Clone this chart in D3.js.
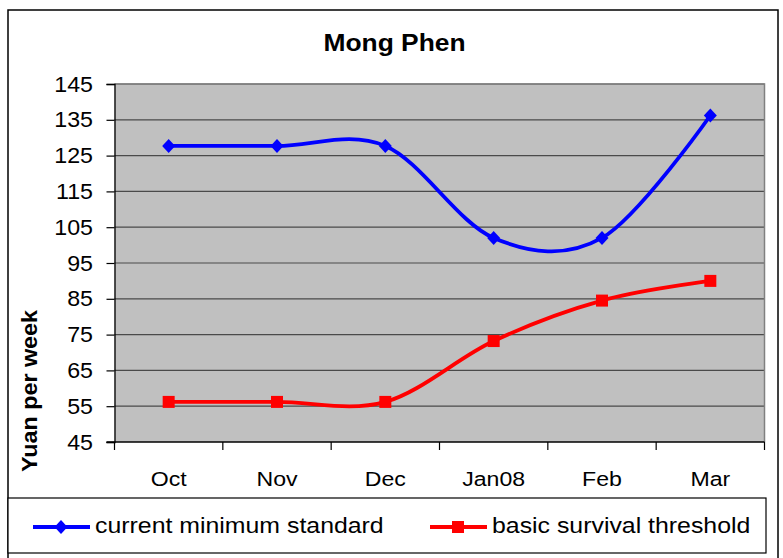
<!DOCTYPE html>
<html>
<head>
<meta charset="utf-8">
<script src="https://cdn.jsdelivr.net/npm/d3@7"></script>
<style>
  html, body { margin: 0; padding: 0; background: #fff; }
  svg { display: block; font-family: Arial, "Liberation Sans", sans-serif; }
</style>
</head>
<body>
<svg id="chart" width="783" height="558"></svg>
<script>
// ---- data ----
const categories = ["Oct", "Nov", "Dec", "Jan08", "Feb", "Mar"];
const currentMinimum = [127.7, 127.7, 127.7, 102, 102, 136.2];
const basicSurvival = [56.2, 56.2, 56.2, 73.2, 84.5, 90];
const yTicks = [45, 55, 65, 75, 85, 95, 105, 115, 125, 135, 145];
const seriesNames = ["current minimum standard", "basic survival threshold"];
const titleText = "Mong Phen";
const yLabelText = "Yuan per week";

// ---- layout ----
const svg = d3.select("#chart");
const plot = { left: 114.5, right: 764.5, top: 84, bottom: 442 };

// helper: text stretched horizontally along its direction
function stretchedText(g, x, y, txt, opts) {
  const t = g.append("text")
    .attr("transform", `translate(${x},${y})${opts.rotate ? ` rotate(${opts.rotate})` : ""} scale(${opts.sx || 1},1)`)
    .attr("text-anchor", opts.anchor || "start")
    .attr("font-size", opts.size)
    .attr("font-weight", opts.weight || "normal")
    .attr("fill", "#000")
    .text(txt);
  return t;
}

// outer border
svg.append("rect")
  .attr("x", 8).attr("y", 10).attr("width", 770).attr("height", 600)
  .attr("fill", "#fff").attr("stroke", "#000").attr("stroke-width", 1.5);

// scales
const x = d3.scalePoint().domain(categories).range([plot.left, plot.right]).padding(0.5);
const xBand = d3.scaleBand().domain(categories).range([plot.left, plot.right]);
const y = d3.scaleLinear().domain([45, 145]).range([plot.bottom, plot.top]);

// plot area
svg.append("rect")
  .attr("x", plot.left).attr("y", plot.top)
  .attr("width", plot.right - plot.left).attr("height", plot.bottom - plot.top)
  .attr("fill", "#C0C0C0");

// gridlines
svg.append("g").selectAll("line").data(yTicks.slice(1)).join("line")
  .attr("x1", plot.left).attr("x2", plot.right)
  .attr("y1", d => y(d)).attr("y2", d => y(d))
  .attr("stroke", "#4a4a4a").attr("stroke-width", 1.2);

// plot border top/right
svg.append("path")
  .attr("d", `M${plot.left},${plot.top}H${plot.right}V${plot.bottom}`)
  .attr("fill", "none").attr("stroke", "#808080").attr("stroke-width", 1.5);

// y axis
const yAxis = d3.axisLeft(y).tickValues(yTicks).tickSize(8).tickFormat("");
const gy = svg.append("g").attr("transform", `translate(${plot.left},0)`).call(yAxis);
gy.select(".domain").attr("stroke", "#000").attr("stroke-width", 1.3);
gy.selectAll(".tick line").attr("stroke", "#000").attr("stroke-width", 1.2);
yTicks.forEach(v => {
  stretchedText(svg, 93, y(v) + 7.5, String(v), { anchor: "end", size: 21.5, sx: 1.08 });
});

// x axis
const xEdges = categories.map(c => xBand(c)).concat([plot.right]);
svg.append("line")
  .attr("x1", plot.left - 8).attr("x2", plot.right)
  .attr("y1", plot.bottom).attr("y2", plot.bottom)
  .attr("stroke", "#000").attr("stroke-width", 1.3);
svg.append("g").selectAll("line").data(xEdges).join("line")
  .attr("x1", d => d).attr("x2", d => d)
  .attr("y1", plot.bottom).attr("y2", plot.bottom + 8)
  .attr("stroke", "#000").attr("stroke-width", 1.2);
categories.forEach(c => {
  stretchedText(svg, x(c), 486, c, { anchor: "middle", size: 21, sx: 1.1 });
});

// title
stretchedText(svg, 394.5, 51, titleText, { anchor: "middle", size: 24, weight: "bold", sx: 1.1 });

// y label
stretchedText(svg, 36.5, 391, yLabelText, { anchor: "middle", size: 22, weight: "bold", rotate: -90, sx: 1.06 });

// lines
const line = d3.line().x((d, i) => x(categories[i])).y(d => y(d)).curve(d3.curveCardinal.tension(0));
const series = [
  { name: seriesNames[0], values: currentMinimum, color: "#0000FF", symbol: "diamond" },
  { name: seriesNames[1], values: basicSurvival, color: "#FF0000", symbol: "square" }
];

function drawMarker(g, cx, cy, s) {
  if (s.symbol === "diamond") {
    g.append("path")
      .attr("d", `M${cx},${cy - 7}L${cx + 6.5},${cy}L${cx},${cy + 7}L${cx - 6.5},${cy}Z`)
      .attr("fill", s.color);
  } else {
    g.append("rect")
      .attr("x", cx - 6).attr("y", cy - 6).attr("width", 12).attr("height", 12)
      .attr("fill", s.color);
  }
}

series.forEach(s => {
  svg.append("path")
    .attr("d", line(s.values))
    .attr("fill", "none").attr("stroke", s.color).attr("stroke-width", 3.8)
    .attr("stroke-linejoin", "round");
  const g = svg.append("g");
  s.values.forEach((v, i) => drawMarker(g, x(categories[i]), y(v), s));
});

// legend
svg.append("rect")
  .attr("x", 8).attr("y", 498).attr("width", 758).attr("height", 55)
  .attr("fill", "#fff").attr("stroke", "#000").attr("stroke-width", 1.2);
const legendItems = [
  { s: series[0], x0: 33, textX: 95 },
  { s: series[1], x0: 430, textX: 492 }
];
legendItems.forEach(li => {
  const g = svg.append("g");
  g.append("line")
    .attr("x1", li.x0).attr("x2", li.x0 + 57)
    .attr("y1", 527).attr("y2", 527)
    .attr("stroke", li.s.color).attr("stroke-width", 3.8);
  drawMarker(g, li.x0 + 28, 527, li.s);
  stretchedText(svg, li.textX, 533, li.s.name, { anchor: "start", size: 22, sx: 1.13 });
});
</script>
</body>
</html>
